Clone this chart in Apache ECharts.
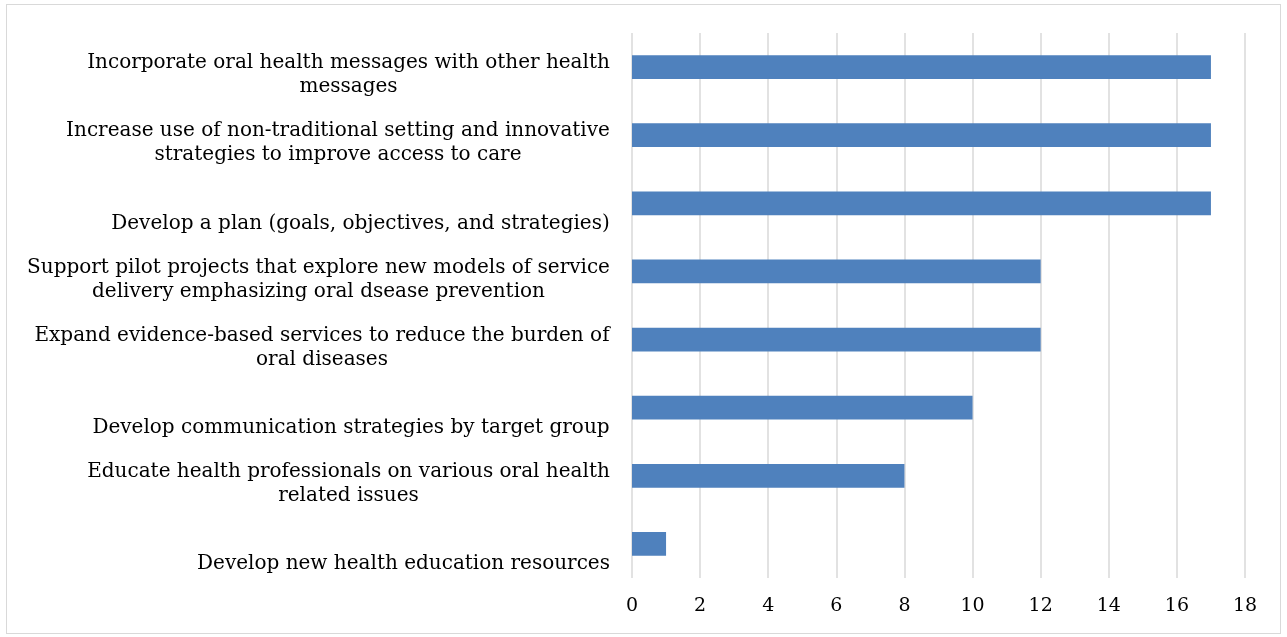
<!DOCTYPE html>
<html>
<head>
<meta charset="utf-8">
<script src="https://cdn.jsdelivr.net/npm/echarts@6/dist/echarts.min.js"></script>
<style>
  html, body { margin: 0; padding: 0; background: #fff; }
  #frame { position: absolute; left: 6px; top: 4px; width: 1273px; height: 628px; border: 1px solid #d9d9d9; }
  #chart { width: 1287px; height: 637px; }
</style>
</head>
<body>
<div id="frame"></div>
<div id="chart"></div>
<script>
// categories, top to bottom
const categories = [
    'Incorporate oral health messages with other health\nmessages',
    'Increase use of non-traditional setting and innovative\nstrategies to improve access to care',
    'Develop a plan (goals, objectives, and strategies)',
    'Support pilot projects that explore new models of service\ndelivery emphasizing oral dsease prevention',
    'Expand evidence-based services to reduce the burden of\noral diseases',
    'Develop communication strategies by target group',
    'Educate health professionals on various oral health\nrelated issues',
    'Develop new health education resources'
];
const counts = [17, 17, 17, 12, 12, 10, 8, 1];
const xTicks = [0, 2, 4, 6, 8, 10, 12, 14, 16, 18];

const font = '"DejaVu Serif", "Liberation Serif", serif';
const fontSize = 20;

// measure each label so the wrapped lines can be centred under each other
const ctx = document.createElement('canvas').getContext('2d');
ctx.font = fontSize + 'px ' + font;
const rich = {
    gap1: { lineHeight: 40, fontSize: 1 },
    gap2: { lineHeight: 16, fontSize: 1 }
};
categories.forEach(function (c, i) {
    const w = Math.max.apply(null, c.split('\n').map(function (s) { return ctx.measureText(s).width; }));
    rich['w' + i] = { width: Math.ceil(w), align: 'center', fontFamily: font, fontSize: fontSize, lineHeight: 24, color: '#000' };
});

let chart = echarts.init(document.getElementById('chart'));

chart.setOption({
    animation: false,
    grid: {
        left: 632,
        right: 42,
        top: 33,
        bottom: 59
    },
    xAxis: {
        type: 'value',
        min: xTicks[0],
        max: xTicks[xTicks.length - 1],
        interval: 2,
        axisLine: { show: false },
        axisTick: { show: false },
        axisLabel: { fontFamily: font, fontSize: 19, color: '#000', margin: 19 },
        splitLine: { lineStyle: { color: '#d9d9d9', width: 1.5 } }
    },
    yAxis: {
        type: 'category',
        inverse: true,
        data: categories,
        axisLine: { show: false },
        axisTick: { show: false },
        axisLabel: {
            align: 'right',
            margin: 22,
            formatter: function (value, idx) {
                const lines = value.split('\n');
                // Excel drops single-line labels lower than wrapped ones
                const gap = lines.length > 1 ? '{gap2| }' : '{gap1| }';
                return gap + '\n' + lines.map(function (l) { return '{w' + idx + '|' + l + '}'; }).join('\n');
            },
            rich: rich
        }
    },
    series: [{
        type: 'bar',
        data: counts,
        barWidth: '35%',
        itemStyle: { color: '#4f81bd' }
    }]
});
</script>
</body>
</html>
